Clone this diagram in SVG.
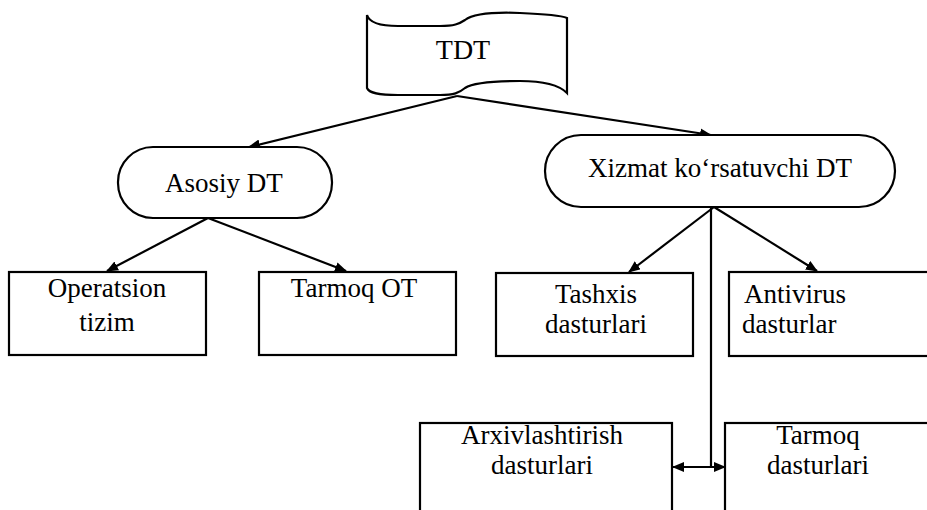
<svg xmlns="http://www.w3.org/2000/svg" width="927" height="510" viewBox="0 0 927 510">
<style>
.shape{fill:#fff;stroke:#000;stroke-width:2.2}
.line{fill:none;stroke:#000;stroke-width:2.2}
.lbl{font-family:'Liberation Serif','Times New Roman',Times,serif;font-size:27px;fill:#000;text-anchor:middle}
.sm{font-size:26px}
.st{text-anchor:start}
</style>
<defs>
<marker id="ah" viewBox="0 0 12 10" refX="11" refY="5" markerWidth="12" markerHeight="10" markerUnits="userSpaceOnUse" orient="auto-start-reverse">
<path d="M0,0 L12,5 L0,10 Z" fill="#000"/>
</marker>
</defs>
<rect width="927" height="510" fill="#fff"/>
<g id="connectors">
<line class="line" x1="457" y1="96" x2="249" y2="147" marker-end="url(#ah)"/>
<line class="line" x1="457" y1="96" x2="711" y2="135" marker-end="url(#ah)"/>
<line class="line" x1="208" y1="218" x2="107" y2="271" marker-end="url(#ah)"/>
<line class="line" x1="208" y1="218" x2="346" y2="271" marker-end="url(#ah)"/>
<line class="line" x1="714" y1="207" x2="629" y2="272" marker-end="url(#ah)"/>
<line class="line" x1="714" y1="207" x2="817" y2="271" marker-end="url(#ah)"/>
<line class="line" x1="711" y1="207" x2="711" y2="467"/>
<line class="line" x1="673" y1="467" x2="725" y2="467" marker-start="url(#ah)" marker-end="url(#ah)"/>
</g>
<g font-family="'Liberation Serif', 'Times New Roman', serif" font-size="27">
<g id="node-tdt">
<path class="shape" d="M367,15 C369,22 378,26 398,26 L440,26 C454,26 459,24 465,20 C474,13 495,12 520,13 C545,14 560,15 567,18 L567,93 C560,86 545,81 520,81 C495,81 474,82 465,88 C459,93 454,95 440,95 L398,95 C378,95 369,93 367,88 Z"/>
<text class="lbl" x="463" y="59" style="font-size:28px">TDT</text>
</g>
<g id="node-asosiy">
<rect class="shape" x="118" y="147" width="214" height="71" rx="35" ry="35"/>
<text class="lbl" x="224" y="192">Asosiy DT</text>
</g>
<g id="node-xizmat">
<rect class="shape" x="545" y="135" width="350" height="72" rx="36" ry="36"/>
<text class="lbl" x="720" y="177">Xizmat ko‘rsatuvchi DT</text>
</g>
<g id="node-operatsion">
<rect class="shape" x="9" y="272" width="197" height="83"/>
<text class="lbl" x="107" y="297">Operatsion</text>
<text class="lbl" x="107" y="331">tizim</text>
</g>
<g id="node-tarmoq-ot">
<rect class="shape" x="259" y="272" width="197" height="83"/>
<text class="lbl" x="354" y="297">Tarmoq OT</text>
</g>
<g id="node-tashxis">
<rect class="shape" x="496" y="273" width="197" height="83"/>
<text class="lbl" x="596" y="303">Tashxis</text>
<text class="lbl" x="596" y="333">dasturlari</text>
</g>
<g id="node-antivirus">
<rect class="shape" x="729" y="272" width="210" height="84"/>
<text class="lbl st" x="744" y="303">Antivirus</text>
<text class="lbl st" x="742" y="333">dasturlar</text>
</g>
<g id="node-arxiv">
<rect class="shape" x="420" y="423" width="252" height="100"/>
<text class="lbl" x="542" y="444">Arxivlashtirish</text>
<text class="lbl" x="542" y="474">dasturlari</text>
</g>
<g id="node-tarmoq-dast">
<rect class="shape" x="725" y="423" width="215" height="100"/>
<text class="lbl" x="818" y="444">Tarmoq</text>
<text class="lbl" x="818" y="474">dasturlari</text>
</g>
</g>
</svg>
